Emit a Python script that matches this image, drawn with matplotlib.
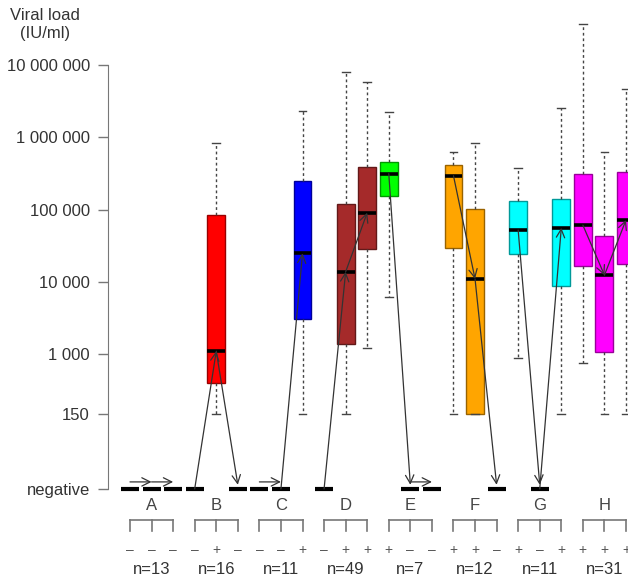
import numpy as np
import matplotlib
matplotlib.use('Agg')
import matplotlib.pyplot as plt
import matplotlib.colors as mcolors

# Данные: группы, знаки, n и статистика боксов (0 = negative)
groups = ['A', 'B', 'C', 'D', 'E', 'F', 'G', 'H']
signs = ['---', '-+-', '--+', '-++', '+--', '++-', '+-+', '+++']
n_labels = ['n=13', 'n=16', 'n=11', 'n=49', 'n=7', 'n=12', 'n=11', 'n=31']
group_colors = ['black', 'red', 'blue', 'brown', 'lime', 'orange', 'cyan', 'magenta']

whis_lo = [0, 0, 0,   0, 150, 0,   0, 0, 150,   0, 150, 1210,
           6240, 0, 0,   150, 150, 0,   895, 0, 150,   748, 150, 150]
q1 = [0, 0, 0,   0, 396, 0,   0, 0, 3070,   0, 1380, 28300,
      154000, 0, 0,   29700, 150, 0,   24100, 0, 8850,   16700, 1080, 17700]
med = [0, 0, 0,   0, 1100, 0,   0, 0, 24800,   0, 13800, 90600,
       314000, 0, 0,   294000, 11000, 0,   52000, 0, 56000,   61000, 12400, 71800]
q3 = [0, 0, 0,   0, 84000, 0,   0, 0, 249000,   0, 119000, 385000,
      455000, 0, 0,   410000, 102000, 0,   130000, 0, 140000,   310000, 43500, 334000]
whis_hi = [0, 0, 0,   0, 841000, 0,   0, 0, 2310000,   0, 8070000, 5760000,
           2220000, 0, 0,   632000, 841000, 0,   372000, 0, 2540000,   36500000, 621000, 4610000]

y_ticks = [1e7, 1e6, 1e5, 1e4, 1e3, 150]
y_tick_labels = ['10 000 000', '1 000 000', '100 000', '10 000', '1 000', '150']

NEG = 13.7  # где рисуется "negative" на логарифмической оси

plt.rcParams['font.family'] = ['Liberation Sans', 'DejaVu Sans']


def pos(v):
    return v if v > 0 else NEG


fig = plt.figure(figsize=(6.28, 5.77), dpi=100)
ax = fig.add_axes([108 / 628, 0, 520 / 628, 1])
ax.set_yscale('log')
ax.set_xlim(-0.0202, 24.093)
ax.set_ylim(10 ** -0.0816, 10 ** 7.899)

# Боксы
stats = []
for i in range(len(med)):
    stats.append({'whislo': pos(whis_lo[i]), 'q1': pos(q1[i]), 'med': pos(med[i]),
                  'q3': pos(q3[i]), 'whishi': pos(whis_hi[i]), 'fliers': []})
positions = np.arange(1, len(med) + 1)

bp = ax.bxp(stats, positions=positions, widths=0.83, patch_artist=True,
            showfliers=False, whiskerprops=dict(color='#444444', lw=1, linestyle=(0, (2, 2))),
            capprops=dict(color='#444444', lw=1), capwidths=0.36,
            medianprops=dict(color='black', lw=2.6, solid_capstyle='butt'),
            boxprops=dict(lw=1))

for i, box in enumerate(bp['boxes']):
    if med[i] == 0:
        box.set_facecolor('none')
        box.set_edgecolor('none')
        bp['medians'][i].set_lw(3)
        for w in bp['whiskers'][2 * i:2 * i + 2] + bp['caps'][2 * i:2 * i + 2]:
            w.set_visible(False)
        continue
    c = np.array(mcolors.to_rgb(group_colors[i // 3]))
    box.set_facecolor(c)
    box.set_edgecolor(c * 0.6)

# Стрелки между медианами внутри группы
for g in range(len(groups)):
    for k in range(2):
        a = 3 * g + k
        b = a + 1
        y0 = med[a]
        y1 = med[b]
        if y0 == 0 and y1 == 0:
            start = (positions[a], NEG * 1.25)
            end = (positions[b], NEG * 1.25)
        else:
            start = (positions[a], pos(y0))
            end = (positions[b], y1 if y1 > 0 else NEG * 1.14)
        ax.annotate('', xy=end, xytext=start,
                    arrowprops=dict(arrowstyle='->', color='#333333', lw=0.9,
                                    shrinkA=0, shrinkB=0, mutation_scale=15),
                    zorder=5)

# Ось Y
for s in ['top', 'right', 'bottom']:
    ax.spines[s].set_visible(False)
ax.spines['left'].set_bounds(NEG, 1e7)
ax.spines['left'].set_color('#777777')
ax.set_yticks(y_ticks + [NEG])
ax.set_yticklabels(y_tick_labels + ['negative'], fontsize=12, color='#333333')
ax.yaxis.set_minor_locator(matplotlib.ticker.NullLocator())
ax.tick_params(axis='y', length=7.2, width=1, color='#777777', pad=5.8)
ax.set_xticks([])

# Подписи под графиком
tr = ax.get_xaxis_transform()
for g in range(len(groups)):
    xs = positions[3 * g:3 * g + 3]
    ax.text(xs[1], 1 - 506 / 577, groups[g], ha='center', va='center',
            fontsize=12, color='#444444', transform=tr)
    ax.plot([xs[0], xs[2]], [1 - 520 / 577] * 2, color='#777777', lw=1.2,
            transform=tr, clip_on=False)
    for x in xs:
        ax.plot([x, x], [1 - 520 / 577, 1 - 531 / 577], color='#777777', lw=1.2,
                transform=tr, clip_on=False)
    for x, ch in zip(xs, signs[g]):
        ax.text(x, 1 - 550 / 577, '+' if ch == '+' else '\u2013', ha='center',
                va='center', fontsize=10, color='#555555', transform=tr)
    ax.text(xs[1], 1 - 569 / 577, n_labels[g], ha='center', va='center',
            fontsize=12, color='#333333', transform=tr)

fig.text(45 / 628, 1 - 24.5 / 577, 'Viral load\n(IU/ml)', ha='center', va='center',
         multialignment='center', fontsize=12, color='#333333', linespacing=1.25)

fig.savefig('out.png', dpi=100)
